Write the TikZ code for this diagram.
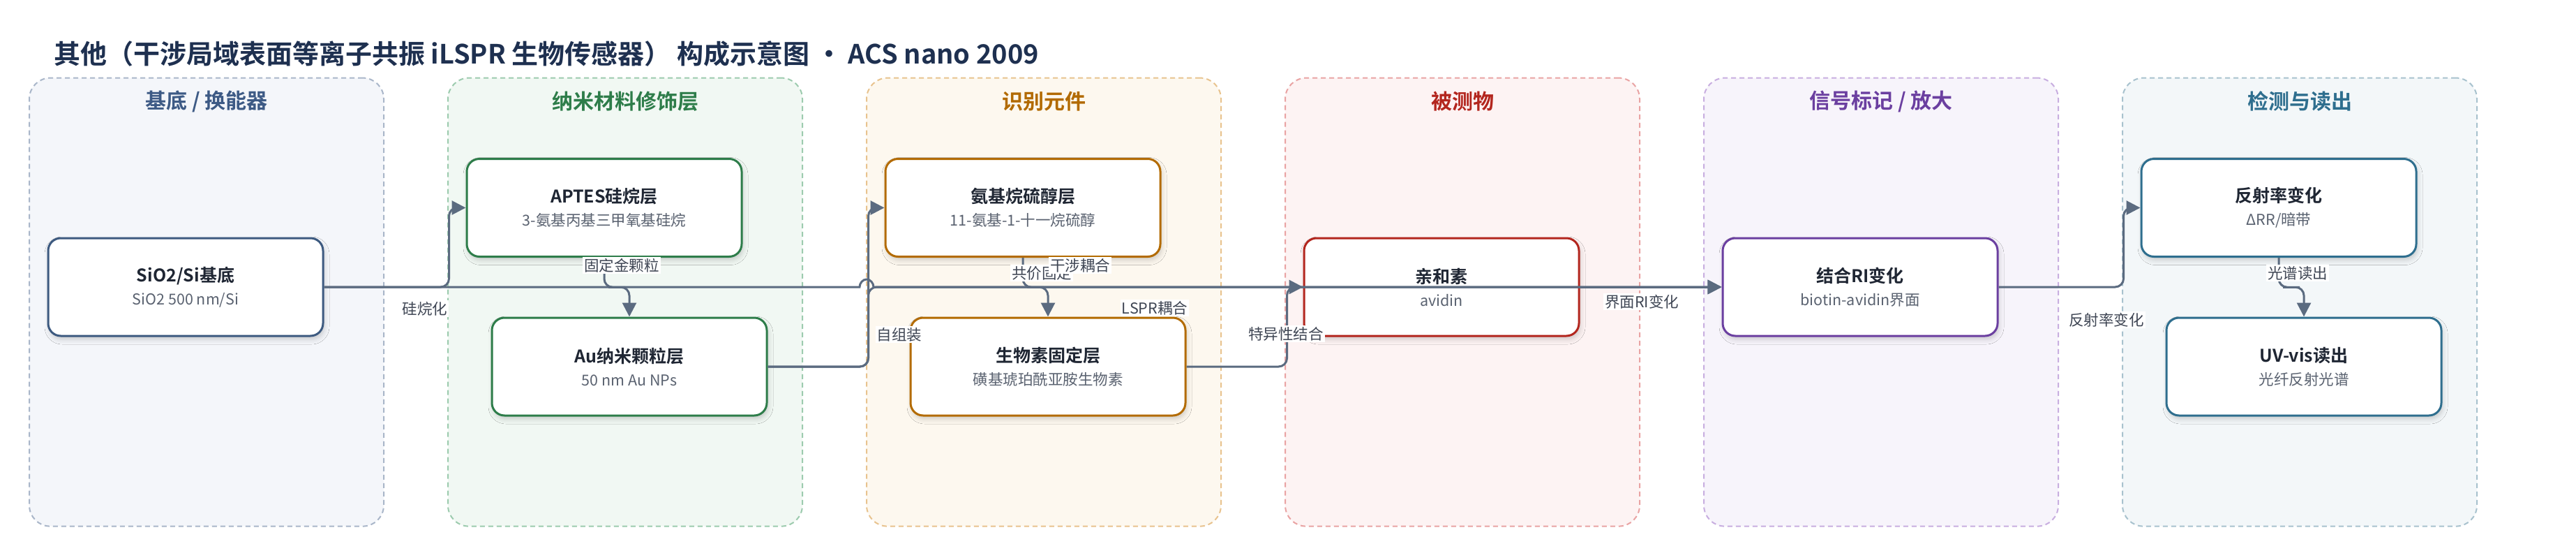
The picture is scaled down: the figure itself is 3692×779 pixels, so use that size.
\documentclass[tikz,border=0pt]{standalone}
\usepackage{fontspec}
\setmainfont{Noto Sans CJK SC}[BoldFont={Noto Sans CJK SC Bold}]
\usetikzlibrary{arrows.meta,calc,shadows.blur}

\definecolor{titlec}{HTML}{1E3050}
\definecolor{edgec}{HTML}{5B6B80}
\definecolor{lblc}{HTML}{3F4654}
\definecolor{ntc}{HTML}{1F2633}
\definecolor{nsc}{HTML}{5A6270}
\definecolor{fillA}{HTML}{F4F6FA}\definecolor{drawA}{HTML}{A9B6C9}\definecolor{textA}{HTML}{3D5A85}\definecolor{nodeA}{HTML}{3D5A80}
\definecolor{fillB}{HTML}{F1F8F3}\definecolor{drawB}{HTML}{9CCBAE}\definecolor{textB}{HTML}{2E7D4A}\definecolor{nodeB}{HTML}{2E7D4A}
\definecolor{fillC}{HTML}{FDF8EF}\definecolor{drawC}{HTML}{E8C38E}\definecolor{textC}{HTML}{B26A00}\definecolor{nodeC}{HTML}{B36B00}
\definecolor{fillD}{HTML}{FDF3F3}\definecolor{drawD}{HTML}{E9A3A3}\definecolor{textD}{HTML}{B3261E}\definecolor{nodeD}{HTML}{B3261E}
\definecolor{fillE}{HTML}{F7F4FB}\definecolor{drawE}{HTML}{C8AEE0}\definecolor{textE}{HTML}{6B3FA0}\definecolor{nodeE}{HTML}{6B3FA0}
\definecolor{fillF}{HTML}{F3F7F9}\definecolor{drawF}{HTML}{A8C2CE}\definecolor{textF}{HTML}{2E6E8E}\definecolor{nodeF}{HTML}{2E6E8E}

\newcommand\mynt[1]{{\fontsize{25}{33}\selectfont\bfseries\color{ntc}#1}}
\newcommand\myns[1]{{\fontsize{21.5}{33}\selectfont\color{nsc}#1}}

\tikzset{
  panelbox/.style n args={2}{draw=#1, fill=#2, line width=2pt, dash pattern=on 7pt off 5pt,
     rounded corners=30pt, minimum width=508pt, minimum height=642pt, inner sep=0pt},
  paneltitle/.style={text=#1, font=\fontsize{30}{36}\selectfont\bfseries, inner sep=0pt},
  box/.style={draw=#1, line width=3pt, fill=white, rounded corners=18pt,
     minimum width=394pt, minimum height=140pt, align=center, inner sep=0pt,
     font=\fontsize{21.5}{33}\selectfont,
     blur shadow={shadow xshift=2pt, shadow yshift=-5pt, shadow blur radius=7pt, shadow opacity=18}},
  conn/.style={draw=edgec, line width=3pt, -{Triangle[length=20pt,width=20pt]}, rounded corners=12pt},
  lbl/.style={fill=white, text=lblc, font=\fontsize{21.5}{24}\selectfont, inner sep=2pt},
}

\begin{document}
\begin{tikzpicture}[x=1pt,y=-1pt]
\useasboundingbox (0,0) rectangle (3692,779);
\fill[white] (0,0) rectangle (3692,779);

% title
\node[anchor=west, text=titlec, font=\fontsize{38}{46}\selectfont\bfseries, inner sep=0pt] (title) at (77,77)
  {其他（干涉局域表面等离子共振 iLSPR 生物传感器） 构成示意图 • ACS nano 2009};

% panels
\node[panelbox={drawA}{fillA}] (p1) at (296,432.6) {};
\node[panelbox={drawB}{fillB}] (p2) at (896,432.6) {};
\node[panelbox={drawC}{fillC}] (p3) at (1496,432.6) {};
\node[panelbox={drawD}{fillD}] (p4) at (2096,432.6) {};
\node[panelbox={drawE}{fillE}] (p5) at (2696,432.6) {};
\node[panelbox={drawF}{fillF}] (p6) at (3296,432.6) {};

\node[paneltitle=textA] (t1) at (296,145) {基底 / 换能器};
\node[paneltitle=textB] (t2) at (896,145) {纳米材料修饰层};
\node[paneltitle=textC] (t3) at (1496,145) {识别元件};
\node[paneltitle=textD] (t4) at (2096,145) {被测物};
\node[paneltitle=textE] (t5) at (2696,145) {信号标记 / 放大};
\node[paneltitle=textF] (t6) at (3296,145) {检测与读出};

% nodes
\node[box=nodeA] (sio2) at (266,411) {\mynt{SiO2/Si基底}\\\myns{SiO2 500 nm/Si}};
\node[box=nodeB] (aptes) at (866,297.5) {\mynt{APTES硅烷层}\\\myns{3-氨基丙基三甲氧基硅烷}};
\node[box=nodeB] (au) at (902,525) {\mynt{Au纳米颗粒层}\\\myns{50 nm Au NPs}};
\node[box=nodeC] (thiol) at (1466,297.5) {\mynt{氨基烷硫醇层}\\\myns{11-氨基-1-十一烷硫醇}};
\node[box=nodeC] (biotin) at (1502,525) {\mynt{生物素固定层}\\\myns{磺基琥珀酰亚胺生物素}};
\node[box=nodeD] (avidin) at (2066,411) {\mynt{亲和素}\\\myns{avidin}};
\node[box=nodeE] (ri) at (2666,411) {\mynt{结合RI变化}\\\myns{biotin-avidin界面}};
\node[box=nodeF] (refl) at (3266,297.5) {\mynt{反射率变化}\\\myns{ΔRR/暗带}};
\node[box=nodeF] (uv) at (3302,525) {\mynt{UV-vis读出}\\\myns{光纤反射光谱}};

% connectors
\draw[conn] (sio2.east) -- ++(179,0) |- (aptes.west);
\draw[conn] (aptes.south) |- ($(aptes.south)!.5!(au.north)$) -| (au.north);
\draw[conn] (au.east) -- ++(144,0) |- (thiol.west);
\draw[conn] (au.east) -- ++(144,0) |- (ri.west);
\draw[conn] (thiol.south) |- ($(thiol.south)!.5!(biotin.north)$) -| (biotin.north);
\draw[conn, sharp corners] (sio2.east) -- (1232,411)
   .. controls (1232,405.5) and (1236.5,400) .. (1242,400)
   .. controls (1247.5,400) and (1252,405.5) .. (1252,411) -- (ri.west);
\draw[conn] (biotin.east) -- ++(144,0) |- (avidin.west);
\draw[conn] (avidin.east) -- (ri.west);
\draw[conn] (ri.east) -- ++(179,0) |- (refl.west);
\draw[conn] (refl.south) |- ($(refl.south)!.5!(uv.north)$) -| (uv.north);

% labels
\node[lbl] (l1) at (609,442) {硅烷化};
\node[lbl] (l2) at (891,380) {固定金颗粒};
\node[lbl] (l3) at (1289,479) {自组装};
\node[lbl] (l4) at (1493,391) {共价固定};
\node[lbl] (l5) at (1548,380) {干涉耦合};
\node[lbl] (l6) at (1655,441) {LSPR耦合};
\node[lbl] (l7) at (1843,478) {特异性结合};
\node[lbl] (l8) at (2353,432) {界面RI变化};
\node[lbl] (l9) at (3019,458) {反射率变化};
\node[lbl] (l10) at (3293,391) {光谱读出};
\end{tikzpicture}
\end{document}
